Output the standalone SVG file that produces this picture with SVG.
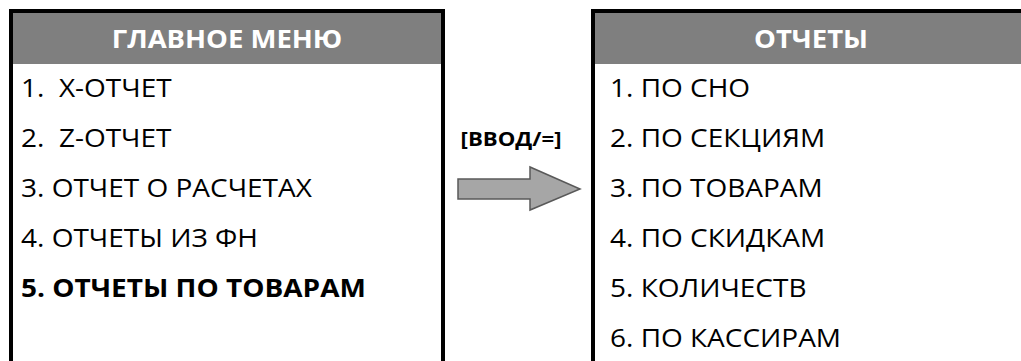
<svg xmlns="http://www.w3.org/2000/svg" width="1021" height="361" viewBox="0 0 1021 361">
<style>
.box{fill:#fff;stroke:#000;stroke-width:4}
.hdr{fill:#7f7f7f}
.ht{font-family:"Open Sans","Noto Sans",sans-serif;font-weight:bold;font-size:25px;fill:#fff;text-anchor:middle}
.it{font-family:"Open Sans","Noto Sans",sans-serif;font-size:25px;fill:#000}
.b{font-weight:bold}
.lbl{font-family:"Open Sans","Noto Sans",sans-serif;font-weight:bold;font-size:20px;fill:#000;text-anchor:middle}
</style>
<rect width="1021" height="361" fill="#fff"/>
<g id="main-menu">
<rect class="box" x="11" y="11" width="432" height="370"/>
<rect class="hdr" x="13" y="13" width="428" height="51"/>
<g transform="translate(227,48) scale(1.1,1)"><text class="ht" x="0" y="0">ГЛАВНОЕ МЕНЮ</text></g>
<g transform="translate(21,0) scale(1.12,1)">
<text class="it" x="0" y="97">1.&#160; X-ОТЧЕТ</text>
<text class="it" x="0" y="147">2.&#160; Z-ОТЧЕТ</text>
<text class="it" x="0" y="197">3. ОТЧЕТ О РАСЧЕТАХ</text>
<text class="it" x="0" y="247">4. ОТЧЕТЫ ИЗ ФН</text>
<text class="it b" x="0" y="297">5. ОТЧЕТЫ ПО ТОВАРАМ</text>
</g>
</g>
<g id="reports-menu">
<rect class="box" x="593" y="11" width="430" height="370"/>
<rect class="hdr" x="595" y="13" width="428" height="51"/>
<g transform="translate(811,48) scale(1.1,1)"><text class="ht" x="0" y="0">ОТЧЕТЫ</text></g>
<g transform="translate(610,0) scale(1.12,1)">
<text class="it" x="0" y="97">1. ПО СНО</text>
<text class="it" x="0" y="147">2. ПО СЕКЦИЯМ</text>
<text class="it" x="0" y="197">3. ПО ТОВАРАМ</text>
<text class="it" x="0" y="247">4. ПО СКИДКАМ</text>
<text class="it" x="0" y="297">5. КОЛИЧЕСТВ</text>
<text class="it" x="0" y="347">6. ПО КАССИРАМ</text>
</g>
</g>
<g id="connectors">
<g transform="translate(511,146) scale(1.11,1)"><text class="lbl" x="0" y="0">[ВВОД/=]</text></g>
<polygon points="458,179 530,179 530,167 580,189 530,210 530,199 458,199" fill="#a6a6a6" stroke="#595959" stroke-width="1.5"/>
</g>
</svg>
